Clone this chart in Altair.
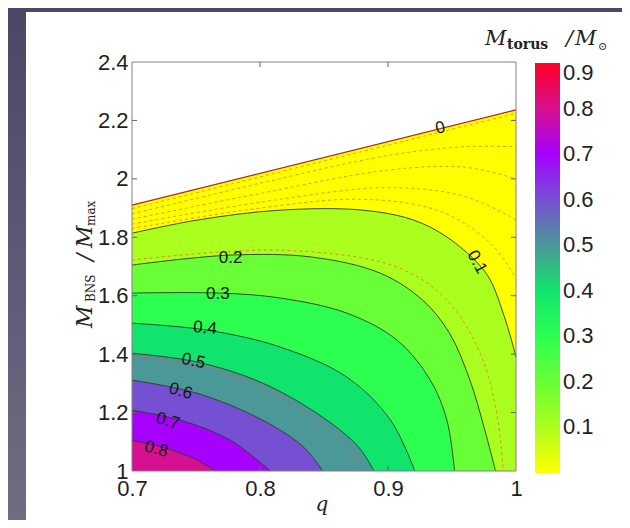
import altair as alt
import pandas as pd

# ---------------- colour bar (M_torus / M_sun) ----------------
CBAR_LEVELS = [0.0, 0.1, 0.2, 0.3, 0.4, 0.5, 0.6, 0.7, 0.8, 0.9]
CBAR_COLORS = ["#FFFF00", "#AAFF1E", "#68FF36", "#2CFF50", "#10E46C",
               "#4A9898", "#7650D2", "#A600FF", "#D6108E", "#FF0028"]
CBAR_TICKS = [0.1, 0.2, 0.3, 0.4, 0.5, 0.6, 0.7, 0.8, 0.9]

# ---------------- axes ----------------
X_TICKS = [0.7, 0.8, 0.9, 1.0]
Y_TICKS = [1.0, 1.2, 1.4, 1.6, 1.8, 2.0, 2.2, 2.4]
X_INNER = [0.8, 0.9]
Y_INNER = [1.2, 1.4, 1.6, 1.8, 2.0, 2.2]

# ---------------- contour lines (q, M_BNS/M_max) ----------------
C00_Q = [0.700, 1.000]
C00_M = [1.910, 2.236]
C01_Q = [0.700, 0.751, 0.816, 0.880, 0.920, 0.946, 0.970, 0.980, 0.990, 0.998, 1.000]
C01_M = [1.814, 1.859, 1.893, 1.893, 1.859, 1.801, 1.712, 1.653, 1.540, 1.424, 1.390]
C02_Q = [0.700, 0.777, 0.841, 0.894, 0.927, 0.948, 0.964, 0.975, 0.984]
C02_M = [1.705, 1.739, 1.732, 1.677, 1.585, 1.472, 1.311, 1.150, 1.000]
C03_Q = [0.700, 0.769, 0.816, 0.868, 0.907, 0.933, 0.946, 0.952]
C03_M = [1.609, 1.609, 1.592, 1.540, 1.448, 1.311, 1.174, 1.000]
C04_Q = [0.700, 0.759, 0.816, 0.868, 0.902, 0.921]
C04_M = [1.506, 1.482, 1.424, 1.321, 1.174, 1.000]
C05_Q = [0.700, 0.751, 0.802, 0.849, 0.877, 0.889]
C05_M = [1.403, 1.373, 1.301, 1.184, 1.082, 1.000]
C06_Q = [0.700, 0.751, 0.802, 0.834, 0.849]
C06_M = [1.311, 1.266, 1.174, 1.082, 1.000]
C07_Q = [0.700, 0.738, 0.777, 0.808]
C07_M = [1.208, 1.174, 1.105, 1.000]
C08_Q = [0.700, 0.724, 0.751, 0.765]
C08_M = [1.105, 1.082, 1.037, 1.000]

CONTOURS = [
    (0.0, C00_Q, C00_M), (0.1, C01_Q, C01_M), (0.2, C02_Q, C02_M),
    (0.3, C03_Q, C03_M), (0.4, C04_Q, C04_M), (0.5, C05_Q, C05_M),
    (0.6, C06_Q, C06_M), (0.7, C07_Q, C07_M), (0.8, C08_Q, C08_M),
]

# red dashed sub-contours
D1_Q = [0.700, 1.000]
D1_M = [1.898, 2.224]
D2_Q = [0.700, 0.800, 0.900, 0.960, 1.000]
D2_M = [1.880, 1.985, 2.080, 2.110, 2.110]
D3_Q = [0.700, 0.800, 0.900, 0.960, 1.000]
D3_M = [1.862, 1.950, 2.030, 2.040, 2.000]
D4_Q = [0.700, 0.800, 0.900, 0.960, 1.000]
D4_M = [1.845, 1.920, 1.970, 1.940, 1.860]
D5_Q = [0.700, 0.800, 0.880, 0.940, 0.980, 1.000]
D5_M = [1.830, 1.900, 1.930, 1.890, 1.780, 1.660]
D15_Q = [0.700, 0.816, 0.907, 0.946, 0.972, 0.985, 0.990]
D15_M = [1.722, 1.756, 1.698, 1.585, 1.403, 1.198, 1.000]
D55_Q = [0.700, 0.751, 0.802, 0.845, 0.872, 0.880]
D55_M = [1.390, 1.358, 1.285, 1.170, 1.065, 1.000]
DASHED = [("d1", D1_Q, D1_M), ("d2", D2_Q, D2_M), ("d3", D3_Q, D3_M),
          ("d4", D4_Q, D4_M), ("d5", D5_Q, D5_M), ("d15", D15_Q, D15_M),
          ("d55", D55_Q, D55_M)]

# contour labels
LAB_TXT = ["0", "0.1", "0.2", "0.3", "0.4", "0.5", "0.6", "0.7", "0.8"]
LAB_Q = [0.941, 0.9695, 0.777, 0.767, 0.757, 0.748, 0.738, 0.728, 0.719]
LAB_M = [2.174, 1.715, 1.729, 1.605, 1.489, 1.376, 1.273, 1.171, 1.075]
LAB_ANG = [346, 62, 0, 0, 5, 12, 16, 16, 16]

# ---------------- data frames ----------------
rows = []
for lv, qs, ms in CONTOURS:
    for q, m in zip(qs, ms):
        rows.append({"level": lv, "q": q, "M": m, "base": 1.0})
cont = pd.DataFrame(rows)

drows = []
for name, qs, ms in DASHED:
    for q, m in zip(qs, ms):
        drows.append({"id": name, "q": q, "M": m})
dashed = pd.DataFrame(drows)

labels = pd.DataFrame({"txt": LAB_TXT, "q": LAB_Q, "M": LAB_M, "ang": LAB_ANG})
xin = pd.DataFrame({"q": X_INNER})
yin = pd.DataFrame({"M": Y_INNER})
one = pd.DataFrame({"a": [0]})

# ---------------- encodings ----------------
FONT = "Liberation Sans"
SERIF = "DejaVu Serif"
TXT = "#1f1f1f"
INTERP = "catmull-rom"

xs = alt.Scale(domain=[0.7, 1.0], nice=False, zero=False)
ys = alt.Scale(domain=[1.0, 2.4], nice=False, zero=False)
x_axis = alt.Axis(values=X_TICKS, format="~g", labelFont=FONT, labelFontSize=22,
                  labelColor=TXT, labelPadding=7, ticks=False, domain=False,
                  grid=False, labelFlush=False, labelOverlap=False, zindex=1)
y_axis = alt.Axis(values=Y_TICKS, format="~g", labelFont=FONT, labelFontSize=22,
                  labelColor=TXT, labelPadding=4, ticks=False, domain=False,
                  grid=False, labelOverlap=False, zindex=1)
X = alt.X("q:Q", scale=xs, axis=x_axis, title=None)
Y = alt.Y("M:Q", scale=ys, axis=y_axis, title=None)

cscale = alt.Scale(domain=CBAR_LEVELS, range=CBAR_COLORS, type="linear",
                   interpolate="rgb")
legend = alt.Legend(title=None, orient="none", legendX=403, legendY=1,
                    direction="vertical", gradientLength=410, gradientThickness=25,
                    values=CBAR_TICKS, format="~g", labelFont=FONT, labelFontSize=22,
                    labelColor=TXT, labelOffset=3, labelOverlap=False,
                    labelBaseline="middle", padding=0, gradientStrokeWidth=0,
                    zindex=1)
COLOR = alt.Color("level:Q", scale=cscale, legend=legend)

# ---------------- layers ----------------
layers = []

# slide background + white figure panel
grad = alt.Gradient(gradient="linear",
                    stops=[alt.GradientStop(color="#4A4866", offset=0),
                           alt.GradientStop(color="#706D83", offset=1)],
                    x1=0, x2=0, y1=0, y2=1)
layers.append(alt.Chart(one).mark_rect(color=grad).encode(
    x=alt.value(-124), x2=alt.value(490), y=alt.value(-54), y2=alt.value(458)))
layers.append(alt.Chart(one).mark_rect(color="white").encode(
    x=alt.value(-106), x2=alt.value(500), y=alt.value(-50), y2=alt.value(470)))

# filled contour bands
for lv, _, _ in CONTOURS:
    layers.append(
        alt.Chart(cont).transform_filter(alt.datum.level == lv)
        .mark_area(interpolate=INTERP, opacity=1)
        .encode(x=X, y=Y, y2=alt.Y2("base:Q"), color=COLOR)
    )

# red dashed sub-contours
layers.append(
    alt.Chart(dashed).mark_line(interpolate=INTERP, color="#EE5A22",
                                strokeWidth=0.8, strokeDash=[3, 3], opacity=0.85)
    .encode(x=X, y=Y, detail="id:N")
)

# black contour lines
layers.append(
    alt.Chart(cont).transform_filter(alt.datum.level > 0)
    .mark_line(interpolate=INTERP, color="#2f3a2a", strokeWidth=0.9)
    .encode(x=X, y=Y, detail="level:N")
)
# zero contour (edge)
layers.append(
    alt.Chart(cont).transform_filter(alt.datum.level == 0)
    .mark_line(color="#B02A14", strokeWidth=1.3)
    .encode(x=X, y=Y)
)

# contour labels
layers.append(
    alt.Chart(labels).mark_text(font=FONT, fontSize=17, color="#151515")
    .encode(x=X, y=Y, text="txt:N", angle=alt.Angle("ang:Q", scale=None))
)

# inward ticks
tick_c = "#606060"
layers.append(alt.Chart(xin).mark_rule(color=tick_c).encode(x=X, y=alt.value(0), y2=alt.value(5)))
layers.append(alt.Chart(xin).mark_rule(color=tick_c).encode(x=X, y=alt.value(404), y2=alt.value(409)))
layers.append(alt.Chart(yin).mark_rule(color=tick_c).encode(y=Y, x=alt.value(0), x2=alt.value(5)))
layers.append(alt.Chart(yin).mark_rule(color=tick_c).encode(y=Y, x=alt.value(379), x2=alt.value(384)))

# plot frame
layers.append(alt.Chart(one).mark_rect(fillOpacity=0, stroke="#808080", strokeWidth=1).encode(
    x=alt.value(0), x2=alt.value(384), y=alt.value(0), y2=alt.value(409)))

# axis titles (with subscripts)
def txt(s, x, y, size, style="normal", angle=0, weight="normal", align="left", base="alphabetic"):
    return alt.Chart(one).mark_text(text=s, font=SERIF, fontSize=size, fontStyle=style,
                                    fontWeight=weight, angle=angle, align=align,
                                    baseline=base, color="#222222").encode(
        x=alt.value(x), y=alt.value(y))

layers.append(txt("q", 190, 449, 20, style="italic", align="center"))
# y title: M_BNS / M_max (rotated)
layers.append(txt("M", -40, 266, 22, style="italic", angle=270))
layers.append(txt("BNS", -37, 240, 12, angle=270))
layers.append(txt("/", -40, 199, 22, style="italic", angle=270))
layers.append(txt("M", -40, 186, 22, style="italic", angle=270))
layers.append(txt("max", -37, 164, 12, angle=270))
# colour-bar title: M_torus / M_sun
layers.append(txt("M", 353, -17, 21, style="italic"))
layers.append(txt("torus", 375, -13, 14, weight="bold"))
layers.append(txt("/", 434, -17, 21, style="italic"))
layers.append(txt("M", 443, -17, 21, style="italic"))
layers.append(txt("⊙", 466, -12, 11))

chart = alt.layer(*layers).properties(
    width=384, height=409,
    background="#5D5B75",
    padding={"left": 124, "top": 54, "right": 106, "bottom": 49},
    autosize=alt.AutoSizeParams(type="none"),
).configure_view(stroke="transparent")

chart.save("out.html", embed_options={"renderer": "svg", "actions": False})
